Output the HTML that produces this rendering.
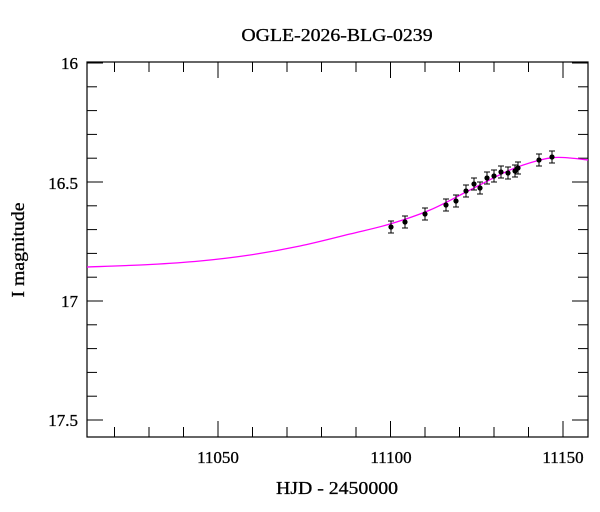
<!DOCTYPE html>
<html><head><style>body{margin:0;background:#fff}svg{display:block}text{font-family:"Liberation Serif",serif;fill:#000}</style></head>
<body>
<svg id="s" width="600" height="512" xmlns="http://www.w3.org/2000/svg">
<text x="337" y="41" font-size="18" text-anchor="middle" transform="translate(337,0) scale(1.1,1) translate(-337,0)" stroke="#000" stroke-width="0.3">OGLE-2026-BLG-0239</text>
<text x="337" y="494" font-size="18" text-anchor="middle" transform="translate(337,0) scale(1.1,1) translate(-337,0)" stroke="#000" stroke-width="0.3">HJD - 2450000</text>
<text transform="translate(24,250) rotate(-90) scale(1.1,1)" font-size="18" text-anchor="middle" stroke="#000" stroke-width="0.3">I magnitude</text>
<g font-size="17" text-anchor="end" stroke="#000" stroke-width="0.3">
<text x="78" y="69">16</text><text x="78" y="189">16.5</text><text x="78" y="307">17</text><text x="78" y="426">17.5</text>
</g>
<g font-size="17" text-anchor="middle" stroke="#000" stroke-width="0.3">
<text x="218" y="463">11050</text><text x="391" y="463">11100</text><text x="563" y="463">11150</text>
</g>
<rect x="87" y="62" width="501" height="375" fill="none" stroke="#000" stroke-width="1.2"/>
<g id="ticks" stroke="#000" stroke-width="1"></g>
<path id="curve" fill="none" stroke="#f0f" stroke-width="1.3"/>
<g id="pts"></g>
</svg>
<script>
var t=document.getElementById('ticks'),h='';
for(var d=11020;d<=11150;d+=10){var x=218+(d-11050)*3.45,L=(d%50==0)?16:10;h+='<line x1="'+x+'" y1="437" x2="'+x+'" y2="'+(437-L)+'"/><line x1="'+x+'" y1="62" x2="'+x+'" y2="'+(62+L)+'"/>';}
for(var i=0;i<=15;i++){var m=16+i*0.1,y=63+(m-16)*238,L=(i%5==0)?16:10;h+='<line x1="87" y1="'+y+'" x2="'+(87+L)+'" y2="'+y+'"/><line x1="588" y1="'+y+'" x2="'+(588-L)+'" y2="'+y+'"/>';}
t.innerHTML=h;
var P=[[87,267],[150,264.5],[200,261],[250,255],[300,246],[350,234],[390,224],[430,210],[470,190],[510,170],[540,160],[555,157.5],[570,158],[588,160]];
var d='M'+P[0];
for(var i=0;i<P.length-1;i++){var p0=P[Math.max(i-1,0)],p1=P[i],p2=P[i+1],p3=P[Math.min(i+2,P.length-1)];
d+=' C'+(p1[0]+(p2[0]-p0[0])/6)+','+(p1[1]+(p2[1]-p0[1])/6)+' '+(p2[0]-(p3[0]-p1[0])/6)+','+(p2[1]-(p3[1]-p1[1])/6)+' '+p2[0]+','+p2[1];}
document.getElementById('curve').setAttribute('d',d);
var D=[[391,227],[405,222],[425,214],[446,205],[456,201],[466,191],[474,184],[480,188],[487,178],[494,176],[501,172],[508,173],[515,171],[518,168],[539,160],[552,157]],g='';
D.forEach(function(p){var x=p[0],y=p[1];g+='<line x1="'+x+'" y1="'+(y-6)+'" x2="'+x+'" y2="'+(y+6)+'" stroke="#000"/><line x1="'+(x-3)+'" y1="'+(y-6)+'" x2="'+(x+3)+'" y2="'+(y-6)+'" stroke="#000"/><line x1="'+(x-3)+'" y1="'+(y+6)+'" x2="'+(x+3)+'" y2="'+(y+6)+'" stroke="#000"/><circle cx="'+x+'" cy="'+y+'" r="2.6" fill="#000"/>';});
document.getElementById('pts').innerHTML=g;
</script>
</body></html>
